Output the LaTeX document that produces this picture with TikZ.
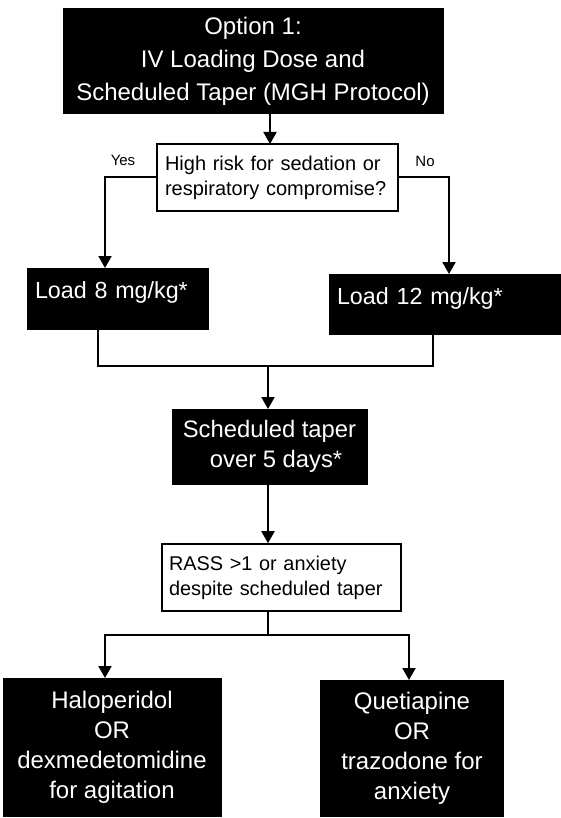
\documentclass[tikz,border=0pt]{standalone}
\usepackage{fontspec}
\setmainfont{Liberation Sans}
\usetikzlibrary{arrows.meta,calc}
\begin{document}
\begin{tikzpicture}[x=1pt,y=-1pt,
  blk/.style={draw=black,fill=black,text=white,rectangle,inner sep=0pt,line width=0pt},
  wht/.style={draw=black,fill=white,text=black,rectangle,inner sep=0pt,line width=1.6pt},
  ln/.style={line width=2pt},
  arr/.style={line width=2pt,-{Triangle[width=13pt,length=12pt]}},
  lbl/.style={font=\fontsize{15}{17}\selectfont,inner sep=0pt}
]
\useasboundingbox (0,0) rectangle (560,818);
\fill[white] (0,0) rectangle (560,818);
% boxes
\node[blk,minimum width=380pt,minimum height=105pt,align=center,
  font=\fontsize{24}{33}\selectfont] (top) at (253,61.5)
  {Option 1:\\IV Loading Dose and\\Scheduled Taper (MGH Protocol)};
\node[wht,minimum width=241pt,minimum height=67pt,text width=225pt,align=left,
  font=\fontsize{20}{25}\selectfont] (q) at (277.5,177.5)
  {High risk for sedation or\\respiratory compromise?};
\node[blk,minimum width=181pt,inner xsep=8pt,text width=165pt,align=left,
  text height=30pt,text depth=31pt,font=\fontsize{23.3}{25}\selectfont] (l8) at (117.5,298.5)
  {Load 8 mg/kg*};
\node[blk,minimum width=231pt,inner xsep=8pt,text width=215pt,align=left,
  text height=30pt,text depth=30pt,font=\fontsize{23.3}{25}\selectfont] (l12) at (444.5,304)
  {Load 12 mg/kg*};
\node[blk,minimum width=195pt,minimum height=75pt,align=center,
  font=\fontsize{23.8}{30}\selectfont] (tp) at (269.5,446.5)
  {Scheduled taper\\\ \ over 5 days*};
\node[wht,minimum width=239pt,minimum height=67pt,text width=225pt,align=left,
  font=\fontsize{19.9}{25}\selectfont] (r) at (281.5,577.5)
  {RASS >1 or anxiety\\despite scheduled taper};
\node[blk,minimum width=218pt,minimum height=138pt,align=center,
  font=\fontsize{24}{30}\selectfont] (h) at (112,747)
  {Haloperidol\\OR\\dexmedetomidine\\for agitation};
\node[blk,minimum width=183pt,minimum height=136pt,align=center,
  font=\fontsize{24}{30}\selectfont] (qt) at (412,748)
  {Quetiapine\\OR\\trazodone for\\anxiety};
% labels
\node[lbl] (yes) at (123,160) {Yes};
\node[lbl] (no) at (425,161) {No};
% coordinates
\coordinate (t1) at (270,114);
\coordinate (t2) at (270,144);
\coordinate (ya) at (105,268);
\coordinate (na) at (449,274);
\coordinate (m8) at (98,329);
\coordinate (m12) at (433,334);
\coordinate (mj) at (268,366);
\coordinate (rb) at (268,611);
\coordinate (rj) at (268,635);
\coordinate (ha) at (105,678);
\coordinate (qa) at (409,680);
% connectors
\draw[arr] (t1) -- (t2);
\draw[arr] (q.west) -| (ya);
\draw[arr] (q.east) -| (na);
\draw[ln] (m8) |- (mj) -| (m12);
\draw[arr] (mj) -- (tp.north -| mj);
\draw[arr] (tp.south -| mj) -- (r.north -| mj);
\draw[ln] (rb) -- (rj);
\draw[arr] (rj) -| (ha);
\draw[arr] (rj) -| (qa);
\end{tikzpicture}
\end{document}
